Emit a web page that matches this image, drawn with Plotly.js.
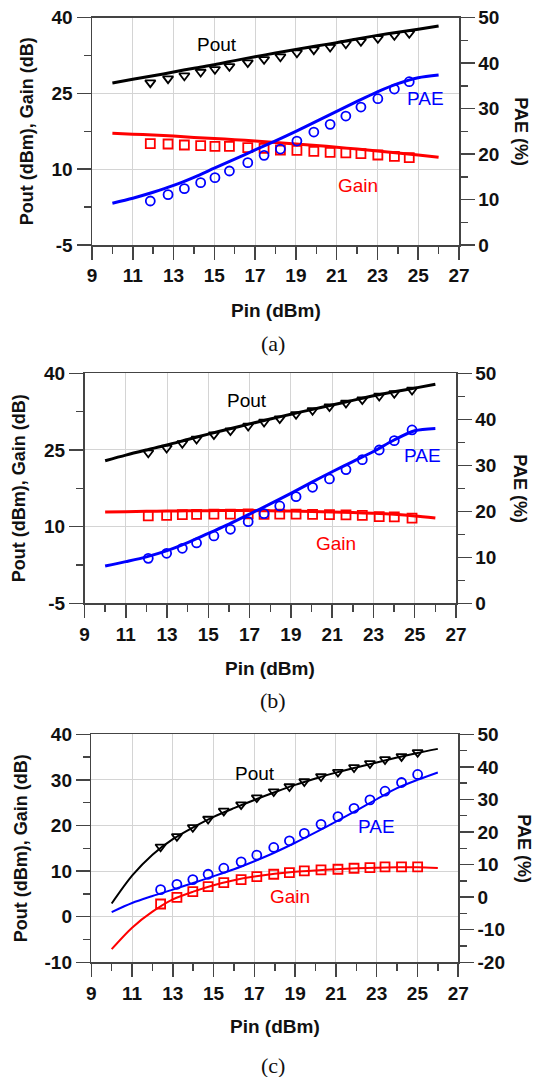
<!DOCTYPE html>
<html>
<head>
<meta charset="utf-8">
<script src="https://cdn.plot.ly/plotly-3.0.1.min.js"></script>
<style>html,body{margin:0;padding:0;background:#fff;}#chart{width:535px;height:1077px;}</style>
</head>
<body>
<div id="chart"></div>
<script>
// ---------- data ----------
const pinLine = [10,11,12,13,14,15,16,17,18,19,20,21,22,23,24,25,26];

// (a)
const poutA_line = [27.07,27.8,28.5,29.25,30.0,30.7,31.5,32.28,33.0,33.73,34.4,35.05,35.8,36.5,37.1,37.7,38.35];
const gainA_line = [17.1,16.95,16.8,16.58,16.3,16.08,15.85,15.6,15.3,15.0,14.7,14.35,14.0,13.6,13.2,12.8,12.35];
const paeA_line  = [9.2,10.3,11.6,13.1,14.9,16.9,18.9,20.9,22.9,25.0,27.2,29.4,31.6,33.7,35.5,36.8,37.4];
const pinA_meas  = [11.86,12.73,13.53,14.33,15.03,15.74,16.64,17.44,18.24,19.05,19.88,20.68,21.45,22.19,23.02,23.83,24.56];
const poutA_meas = [27.14,27.93,28.52,29.25,29.78,30.37,31.1,31.75,32.28,33.07,33.67,34.2,34.85,35.32,35.91,36.5,36.9];
const gainA_meas = [15.07,15.0,14.8,14.67,14.54,14.54,14.27,14.14,13.81,13.75,13.55,13.35,13.22,13.09,12.82,12.56,12.3];
const paeA_meas  = [9.68,11.07,12.39,13.71,14.81,16.28,18.11,19.72,21.11,22.87,24.85,26.54,28.37,30.35,32.18,34.31,35.92];

// (b)
const poutB_line = [22.9,24.0,25.0,25.97,27.05,28.1,29.1,30.1,31.05,32.0,32.9,33.8,34.7,35.6,36.4,37.1,37.85];
const gainB_line = [12.85,12.93,13.0,13.05,13.1,13.13,13.15,13.15,13.1,13.05,12.95,12.85,12.75,12.6,12.4,12.1,11.7];
const paeB_line  = [8.1,9.06,10.1,11.45,13.2,15.2,17.2,19.4,21.6,23.9,26.3,28.6,30.8,33.0,35.5,37.5,38.0];
const pinB_meas  = [12.09,12.98,13.74,14.43,15.27,16.07,16.93,17.70,18.46,19.25,20.05,20.87,21.67,22.46,23.28,24.01,24.87];
const poutB_meas = [24.47,25.39,26.30,27.15,28.0,28.78,29.69,30.48,31.13,31.98,32.76,33.48,34.19,34.85,35.56,36.09,36.74];
const gainB_meas = [12.1,12.2,12.35,12.4,12.45,12.45,12.5,12.4,12.45,12.45,12.4,12.35,12.3,12.2,11.95,11.9,11.65];
const paeB_meas  = [9.78,10.87,11.96,13.12,14.64,16.09,17.75,19.49,21.16,23.19,25.22,27.03,29.06,31.23,33.33,35.36,37.68];

// (c)
const poutC_line = [2.9,9.0,13.6,17.0,19.6,21.9,23.8,25.6,27.3,28.9,30.3,31.6,32.7,33.8,34.9,35.9,36.8];
const gainC_line = [-7.1,-2.4,1.1,3.8,5.5,6.9,8.0,8.8,9.4,9.85,10.15,10.4,10.6,10.75,10.85,10.85,10.7];
const paeC_line  = [-4.58,-1.8,0.35,2.31,4.36,6.42,8.58,11.04,13.72,16.7,19.88,23.17,26.56,30.06,33.45,36.0,38.28];
const pinC_meas  = [12.40,13.20,13.98,14.73,15.50,16.35,17.12,17.95,18.72,19.45,20.27,21.10,21.89,22.67,23.41,24.22,25.01];
const poutC_meas = [15.33,17.61,19.59,21.42,23.19,24.58,26.12,27.44,28.55,29.65,30.75,31.70,32.73,33.61,34.49,35.15,36.04];
const gainC_meas = [2.78,4.24,5.49,6.59,7.47,8.13,8.80,9.31,9.68,10.04,10.26,10.41,10.63,10.78,10.93,10.93,10.93];
const paeC_meas  = [2.31,3.95,5.39,7.04,8.89,10.84,12.89,15.26,17.31,19.57,22.35,24.71,27.28,29.85,32.53,35.2,37.67];

// tick labels
const leftTicksAB  = [-5, 10, 25, 40];
const leftTicksC   = [-10, 0, 10, 20, 30, 40];
const rightTicksAB = [0, 10, 20, 30, 40, 50];
const rightTicksC  = [-20, -10, 0, 10, 20, 30, 40, 50];
const xTicks       = [9, 11, 13, 15, 17, 19, 21, 23, 25, 27];

const xTitle = 'Pin (dBm)';
const yLeftTitle = 'Pout (dBm), Gain (dB)';
const yRightTitle = 'PAE (%)';
const captions = ['(a)', '(b)', '(c)'];
const curveLabels = ['Pout', 'PAE', 'Gain'];

// ---------- styling / layout ----------
const W = 535, H = 1077;
const px = v => v / W;
const py = v => 1 - v / H;
const FONT = 'Liberation Sans, Arial, sans-serif';
const AXC = '#444';
const BLACK = '#000000', BLUE = '#0000ff', RED = '#ff0000';
const lbl = arr => arr.map(v => String(v));   // plain hyphen minus like the original

const panels = [
  {x0:92, x1:459, y0:17.7, y1:245, lrange:[-5,40], lticks:leftTicksAB, lminor:7.5, rrange:[0,50], rticks:rightTicksAB, lw:3,
   pout:poutA_line, gain:gainA_line, pae:paeA_line, pin:pinA_meas, poutM:poutA_meas, gainM:gainA_meas, paeM:paeA_meas,
   lab:[[15.15,34.6],[25.38,24.0],[22.04,6.7]], ltx:27, rtx:521, xty:310, cap:343},
  {x0:84.5, x1:456, y0:373.3, y1:603.3, lrange:[-5,40], lticks:leftTicksAB, lminor:7.5, rrange:[0,50], rticks:rightTicksAB, lw:3,
   pout:poutB_line, gain:gainB_line, pae:paeB_line, pin:pinB_meas, poutM:poutB_meas, gainM:gainB_meas, paeM:paeB_meas,
   lab:[[16.88,34.65],[25.38,24.0],[21.17,6.73]], ltx:19, rtx:520, xty:668, cap:700},
  {x0:91.3, x1:458.2, y0:734.3, y1:962.3, lrange:[-10,40], lticks:leftTicksC, lminor:5, rrange:[-20,50], rticks:rightTicksC, lw:2,
   pout:poutC_line, gain:gainC_line, pae:paeC_line, pin:pinC_meas, poutM:poutC_meas, gainM:gainC_meas, paeM:paeC_meas,
   lab:[[17.05,31.48],[23.0,19.88],[18.77,4.46]], ltx:21, rtx:524, xty:1026, cap:1065}
];

const traces = [];
const layout = {
  width: W, height: H, autosize: false,
  margin: {l:0, r:0, t:0, b:0, pad:0},
  paper_bgcolor: '#fff', plot_bgcolor: '#fff',
  showlegend: false,
  annotations: []
};
const tickFont = {family: FONT, size: 19, color: '#111', weight: 'bold'};

panels.forEach((p, i) => {
  const xa = i === 0 ? 'x' : 'x' + (i + 1);
  const yl = 'y' + (2 * i + 1 === 1 ? '' : (2 * i + 1));
  const yr = 'y' + (2 * i + 2);
  const xKey = i === 0 ? 'xaxis' : 'xaxis' + (i + 1);
  const ylKey = 2 * i + 1 === 1 ? 'yaxis' : 'yaxis' + (2 * i + 1);
  const yrKey = 'yaxis' + (2 * i + 2);

  layout[xKey] = {
    domain: [px(p.x0), px(p.x1)], anchor: yl, range: [9, 27],
    tickmode: 'array', tickvals: xTicks, ticktext: lbl(xTicks),
    ticks: 'outside', ticklen: 13, tickwidth: 1.5, tickcolor: AXC,
    minor: {tickmode: 'linear', tick0: 9, dtick: 1, ticks: 'outside', ticklen: 7, tickwidth: 1.5, tickcolor: AXC, showgrid: false},
    showline: true, linecolor: AXC, linewidth: 1.5, mirror: true,
    showgrid: true, gridcolor: '#d4d4d4', gridwidth: 1, zeroline: false,
    tickfont: tickFont
  };
  layout[ylKey] = {
    domain: [py(p.y1), py(p.y0)], anchor: xa, range: p.lrange,
    tickmode: 'array', tickvals: p.lticks, ticktext: lbl(p.lticks),
    ticks: 'outside', ticklen: 14, tickwidth: 1.5, tickcolor: AXC,
    minor: {tickmode: 'linear', tick0: p.lrange[0], dtick: p.lminor, ticks: 'outside', ticklen: 7, tickwidth: 1.5, tickcolor: AXC, showgrid: false},
    showline: true, linecolor: AXC, linewidth: 1.5,
    showgrid: true, gridcolor: '#d4d4d4', gridwidth: 1, zeroline: false,
    tickfont: tickFont
  };
  layout[yrKey] = {
    overlaying: yl, side: 'right', anchor: xa, range: p.rrange,
    tickmode: 'array', tickvals: p.rticks, ticktext: lbl(p.rticks),
    ticks: 'outside', ticklen: 14, tickwidth: 1.5, tickcolor: AXC,
    minor: {tickmode: 'linear', tick0: p.rrange[0], dtick: 5, ticks: 'outside', ticklen: 7, tickwidth: 1.5, tickcolor: AXC, showgrid: false},
    showline: true, linecolor: AXC, linewidth: 1.5,
    showgrid: false, zeroline: false,
    tickfont: tickFont
  };

  const lineTrace = (y, color, axis) => ({
    x: pinLine, y: y, xaxis: xa, yaxis: axis, type: 'scatter', mode: 'lines',
    line: {color: color, width: p.lw, shape: 'spline', smoothing: 0.8}, hoverinfo: 'skip'
  });
  const markTrace = (y, color, axis, sym) => ({
    x: p.pin, y: y, xaxis: xa, yaxis: axis, type: 'scatter', mode: 'markers',
    marker: {symbol: sym, size: 9, color: color, line: {color: color, width: 1.8}}, hoverinfo: 'skip'
  });
  traces.push(lineTrace(p.gain, RED, yl));
  traces.push(lineTrace(p.pout, BLACK, yl));
  traces.push(lineTrace(p.pae, BLUE, yr));
  traces.push(markTrace(p.gainM, RED, yl, 'square-open'));
  traces.push(markTrace(p.poutM, BLACK, yl, 'triangle-down-open'));
  traces.push(markTrace(p.paeM, BLUE, yr, 'circle-open'));

  const colors = [BLACK, BLUE, RED];
  curveLabels.forEach((t, k) => {
    layout.annotations.push({
      text: t, x: p.lab[k][0], y: p.lab[k][1], xref: xa, yref: yl, showarrow: false,
      font: {family: FONT, size: 19, color: colors[k]}, xanchor: 'center', yanchor: 'middle'
    });
  });
  const midY = (p.y0 + p.y1) / 2;
  layout.annotations.push({
    text: yLeftTitle, x: px(p.ltx), y: py(midY), xref: 'paper', yref: 'paper', showarrow: false,
    textangle: -90, xanchor: 'center', yanchor: 'middle',
    font: {family: FONT, size: 18, color: '#111', weight: 'bold'}
  });
  layout.annotations.push({
    text: yRightTitle, x: px(p.rtx), y: py(midY), xref: 'paper', yref: 'paper', showarrow: false,
    textangle: 90, xanchor: 'center', yanchor: 'middle',
    font: {family: FONT, size: 18, color: '#111', weight: 'bold'}
  });
  layout.annotations.push({
    text: xTitle, x: px((p.x0 + p.x1) / 2), y: py(p.xty), xref: 'paper', yref: 'paper', showarrow: false,
    xanchor: 'center', yanchor: 'middle',
    font: {family: FONT, size: 19, color: '#111', weight: 'bold'}
  });
  layout.annotations.push({
    text: captions[i], x: px(272.5), y: py(p.cap), xref: 'paper', yref: 'paper', showarrow: false,
    xanchor: 'center', yanchor: 'middle',
    font: {family: 'Liberation Serif, Times New Roman, serif', size: 22, color: '#111'}
  });
});

Plotly.newPlot('chart', traces, layout, {staticPlot: true, displayModeBar: false});
</script>
</body>
</html>
